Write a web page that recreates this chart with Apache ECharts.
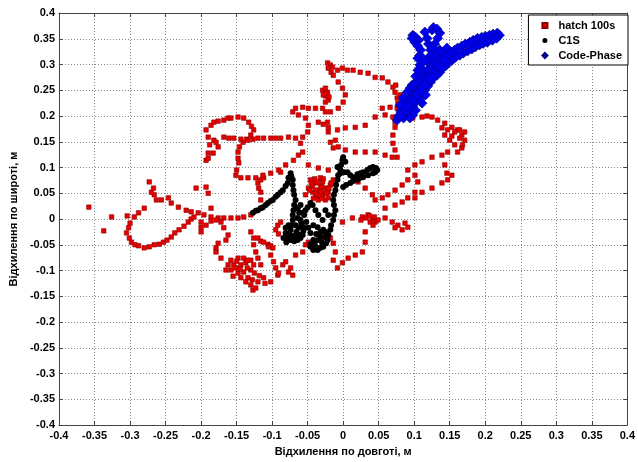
<!DOCTYPE html>
<html><head><meta charset="utf-8">
<script src="https://cdn.jsdelivr.net/npm/echarts@6/dist/echarts.min.js"></script>
<style>html,body{margin:0;padding:0;background:#fff}#c{width:638px;height:462px}</style>
</head><body><div id="c"></div>
<script>
const seriesNames = ['hatch 100s', 'C1S', 'Code-Phase'];
const axisTicks = [-0.4,-0.35,-0.3,-0.25,-0.2,-0.15,-0.1,-0.05,0,0.05,0.1,0.15,0.2,0.25,0.3,0.35,0.4];
const xTitle = 'Відхилення по довготі, м';
const yTitle = 'Відхилення по широті, м';

const hatch100s = [
[-0.358,0.023],[-0.337,-0.023],[-0.326,0.004],[-0.304,0.006],[-0.207,0.060],[-0.193,0.062],[-0.190,0.050],[-0.186,0.021],
[-0.273,0.072],[-0.267,0.060],[-0.266,0.047],[-0.270,0.052],[-0.263,0.037],[-0.256,0.037],[-0.246,0.041],[-0.242,0.031],[-0.232,0.023],[-0.221,0.017],[-0.214,0.014],[-0.204,0.012],[-0.196,0.008],[-0.186,0.004],[-0.176,0.002],[-0.168,0.002],[-0.158,0.002],[-0.148,0.002],[-0.140,0.004],[-0.130,0.008],
[-0.280,0.021],[-0.288,0.012],[-0.294,0.004],[-0.300,-0.008],[-0.302,-0.017],[-0.305,-0.027],[-0.301,-0.037],[-0.298,-0.045],[-0.293,-0.050],[-0.288,-0.052],[-0.280,-0.056],[-0.273,-0.054],[-0.266,-0.050],[-0.259,-0.049],[-0.253,-0.045],[-0.248,-0.041],[-0.242,-0.035],[-0.237,-0.027],[-0.231,-0.021],[-0.224,-0.014],[-0.218,-0.006],[-0.214,0],[-0.210,0.004],
[-0.200,-0.006],[-0.200,-0.016],[-0.200,-0.025],[-0.193,-0.012],[-0.186,-0.004],[-0.179,-0.002],[-0.172,-0.006],[-0.168,-0.017],[-0.162,-0.031],[-0.165,-0.041],[-0.176,-0.047],[-0.179,-0.056],[-0.179,-0.064],[-0.172,-0.076],[-0.162,-0.089],[-0.165,-0.099],
[-0.158,-0.080],[-0.148,-0.076],[-0.140,-0.076],[-0.130,-0.080],[-0.126,-0.089],[-0.130,-0.099],[-0.140,-0.103],[-0.148,-0.105],[-0.158,-0.099],[-0.154,-0.089],[-0.144,-0.089],[-0.137,-0.085],[-0.151,-0.095],[-0.155,-0.111],[-0.144,-0.114],[-0.134,-0.114],[-0.130,-0.128],[-0.127,-0.138],[-0.120,-0.122],[-0.112,-0.114],[-0.102,-0.122],[-0.092,-0.109],[-0.123,-0.134],[-0.137,-0.122],
[-0.150,-0.082],[-0.135,-0.080],[-0.145,-0.097],[-0.135,-0.095],[-0.125,-0.105],[-0.128,-0.118],[-0.118,-0.110],[-0.110,-0.125],
[-0.130,-0.025],[-0.126,-0.037],[-0.120,-0.037],[-0.116,-0.043],[-0.112,-0.045],[-0.106,-0.049],[-0.102,-0.052],[-0.099,-0.056],[-0.105,-0.054],[-0.102,-0.070],[-0.098,-0.083],[-0.095,-0.095],[-0.126,-0.050],[-0.123,-0.064],[-0.120,-0.076],[-0.116,-0.089],[-0.092,-0.012],[-0.088,-0.006],[-0.095,-0.021],[-0.091,-0.029],[-0.085,-0.089],[-0.077,-0.103],[-0.091,-0.105],[-0.071,-0.109],[-0.081,-0.083],[-0.067,-0.070],[-0.057,-0.064],[-0.053,-0.050],[-0.049,-0.045],[-0.074,-0.095],
[-0.116,0.021],[-0.116,0.037],[-0.116,0.052],[-0.119,0.060],[-0.120,0.070],[-0.116,0.076],[-0.112,0.080],
[-0.193,0.173],[-0.190,0.159],[-0.188,0.144],[-0.190,0.128],[-0.193,0.114],[-0.186,0.182],[-0.182,0.188],[-0.176,0.190],[-0.168,0.192],[-0.162,0.196],[-0.158,0.196],[-0.148,0.198],[-0.140,0.196],[-0.133,0.188],[-0.129,0.180],[-0.126,0.173],[-0.130,0.163],[-0.136,0.155],[-0.141,0.149],[-0.146,0.140],[-0.148,0.130],[-0.148,0.118],[-0.147,0.109],[-0.150,0.095],[-0.151,0.085],[-0.144,0.080],[-0.134,0.080],[-0.123,0.080],[-0.113,0.085],[-0.102,0.089],[-0.088,0.091],
[-0.182,0.153],[-0.176,0.140],[-0.183,0.128],[-0.190,0.118],[-0.179,0.149],
[-0.168,0.159],[-0.161,0.157],[-0.154,0.157],[-0.144,0.155],[-0.134,0.153],[-0.127,0.155],[-0.120,0.157],[-0.112,0.157],[-0.102,0.157],[-0.095,0.157],[-0.088,0.157],[-0.077,0.159],[-0.067,0.157],[-0.057,0.159],[-0.050,0.169],[-0.049,0.182],[-0.053,0.196],[-0.063,0.202],[-0.071,0.208],[-0.067,0.215],[-0.057,0.217],[-0.049,0.215],[-0.039,0.215],[-0.029,0.215],[-0.025,0.227],
[-0.060,0.147],[-0.057,0.130],[-0.063,0.124],[-0.070,0.114],[-0.081,0.105],[-0.091,0.095],
[-0.029,0.250],[-0.025,0.254],[-0.022,0.246],[-0.025,0.239],[-0.021,0.231],[-0.028,0.241],[-0.024,0.243],[-0.020,0.237],
[-0.022,0.303],[-0.018,0.299],[-0.015,0.295],[-0.008,0.289],[-0.001,0.293],[0.006,0.289],[0.014,0.289],[0.024,0.285],[0.035,0.283],[0.045,0.275],[0.055,0.274],[0.063,0.266],[0.070,0.256],[0.073,0.246],[0.076,0.235],[0.077,0.225],
[-0.021,0.293],[-0.017,0.285],[-0.014,0.279],[-0.007,0.266],[-0.001,0.254],[0.003,0.241],[0,0.227],[-0.007,0.215],[-0.018,0.208],
[-0.025,0.208],[-0.022,0.188],[-0.021,0.169],[-0.018,0.149],[-0.014,0.138],
[-0.035,0.188],[-0.028,0.184],[-0.021,0.178],[-0.008,0.173],[0.003,0.177],[0.017,0.178],[0.031,0.182],
[-0.011,0.153],[-0.007,0.140],[0.003,0.134],[0.017,0.130],[0.031,0.130],[0.045,0.130],[0.059,0.124],[0.069,0.120],
[0.045,0.198],[0.059,0.202],[0.070,0.198],[0.073,0.188],[0.073,0.178],[0.070,0.163],[0.070,0.147],[0.073,0.134],[0.076,0.120],
[0.055,0.215],[0.066,0.217],[0.076,0.215],
[-0.049,0.105],[-0.035,0.099],[-0.021,0.095],
[0.080,0.241],[0.074,0.260],[0.087,0.198],[0.098,0.196],[0.111,0.198],[0.118,0.200],[0.125,0.198],[0.133,0.192],[0.143,0.186],[0.153,0.178],[0.161,0.173],[0.167,0.163],
[0.139,0.177],[0.147,0.173],[0.157,0.169],[0.164,0.157],[0.171,0.153],[0.150,0.153],[0.157,0.144],[0.167,0.138],[0.161,0.130],[0.143,0.163],[0.153,0.161],[0.164,0.173],[0.171,0.169],[0.168,0.144],
[0.147,0.130],[0.139,0.124],[0.125,0.120],[0.111,0.111],[0.101,0.105],[0.091,0.095],[0.143,0.105],[0.146,0.089],[0.147,0.076],
[0.021,0.072],[0.031,0.060],[0.041,0.047],[0.045,0.037],[0.055,0.041],[0.063,0.047],[0.073,0.056],[0.083,0.066],[0.091,0.076],[0.101,0.085],
[0.105,0.072],[0.101,0.052],[0.101,0.041],[0.111,0.052],[0.125,0.060],[0.139,0.070],[0.153,0.085],
[0.059,0.021],[0.073,0.027],[0.083,0.033],[0.091,0.041],
[-0.001,-0.006],[0.013,0.002],[0.027,0.004],[0.035,0.008],[0.041,0.002],[0.045,-0.006],[0.038,-0.006],[0.049,-0.002],[0.042,-0.012],[0.059,0.002],[0.069,-0.006],[0.077,-0.012],[0.087,-0.008],[0.091,-0.016],[0.083,-0.021],[0.073,-0.017],
[0.025,-0.002],[0.032,0.002],[0.037,0.006],[0.044,0.004],
[0.031,-0.025],[0.031,-0.045],[0.027,-0.064],[0.017,-0.070],[0.007,-0.076],[-0.001,-0.085],[-0.008,-0.095],[-0.014,-0.080],[-0.011,-0.064],[-0.014,-0.047],[-0.018,-0.037],
[-0.046,0.076],[-0.039,0.070],[-0.032,0.066],[-0.025,0.060],[-0.035,0.056],[-0.043,0.052],[-0.029,0.047],[-0.021,0.052],[-0.039,0.043],[-0.049,0.060],[-0.053,0.047],[-0.018,0.066],[-0.014,0.076],[-0.032,0.080],[-0.025,0.037],[-0.035,0.037],[-0.043,0.064],[-0.029,0.072],[-0.021,0.041],[-0.039,0.056],[-0.032,0.052],
[-0.045,0.070],[-0.040,0.078],[-0.036,0.072],[-0.030,0.062],[-0.027,0.055],[-0.024,0.050],[-0.033,0.045],[-0.038,0.049],[-0.047,0.056],[-0.028,0.078],[-0.020,0.060],[-0.017,0.070],[-0.030,0.040],[-0.042,0.040]
];

const c1s = [
[-0.127,0.012],[-0.123,0.016],[-0.120,0.017],[-0.116,0.021],[-0.113,0.023],[-0.109,0.027],[-0.106,0.031],[-0.102,0.035],[-0.099,0.037],[-0.095,0.043],[-0.092,0.047],[-0.088,0.052],[-0.085,0.056],[-0.081,0.064],[-0.078,0.070],[-0.077,0.080],[-0.074,0.089],[-0.073,0.083],
[-0.071,0.076],[-0.071,0.066],[-0.070,0.056],[-0.069,0.047],[-0.067,0.037],[-0.069,0.027],[-0.070,0.017],[-0.071,0.008],[-0.071,-0.002],[-0.073,-0.012],[-0.074,-0.021],[-0.077,-0.029],[-0.078,-0.035],[-0.074,-0.041],[-0.069,-0.043],[-0.064,-0.041],[-0.060,-0.037],[-0.057,-0.031],[-0.056,-0.023],[-0.056,-0.016],[-0.059,-0.008],[-0.060,-0.002],[-0.057,0.012],[-0.053,0.017],[-0.050,0.023],[-0.046,0.031],
[-0.081,-0.017],[-0.077,-0.012],[-0.081,-0.027],[-0.084,-0.037],[-0.080,-0.045],[-0.071,-0.033],[-0.066,-0.025],[-0.063,-0.017],[-0.067,-0.012],[-0.064,0.002],[-0.062,0.012],[-0.064,0.021],[-0.060,0.027],[-0.055,0.008],[-0.052,-0.006],[-0.049,-0.017],[-0.046,-0.027],
[-0.075,-0.030],[-0.070,-0.038],[-0.066,-0.035],[-0.062,-0.030],[-0.079,-0.040],[-0.040,-0.050],[-0.038,-0.055],[-0.030,-0.045],[-0.027,-0.035],[-0.025,-0.025],
[-0.042,-0.012],[-0.036,-0.016],[-0.032,-0.025],[-0.032,-0.035],[-0.036,-0.041],[-0.042,-0.041],[-0.046,-0.049],[-0.046,-0.054],[-0.042,-0.060],[-0.036,-0.060],[-0.032,-0.056],[-0.028,-0.054],[-0.024,-0.047],[-0.022,-0.041],[-0.021,-0.031],[-0.018,-0.021],[-0.017,-0.012],[-0.014,-0.002],[-0.013,0.008],[-0.011,0.017],[-0.013,0.027],[-0.014,0.037],[-0.013,0.047],[-0.011,0.056],[-0.010,0.066],[-0.008,0.076],[-0.007,0.085],[-0.004,0.095],[-0.003,0.105],[-0.001,0.114],[0,0.120],[0.003,0.111],
[-0.008,0.101],[-0.004,0.089],[0.001,0.091],[0.006,0.091],[0.010,0.085],[0.014,0.081],[0.020,0.087],[0.024,0.089],[0.028,0.091],[0.034,0.095],[0.038,0.099],[0.042,0.101],[0.046,0.099],[0.048,0.095],[0.045,0.091],[0.042,0.089],[0.035,0.085],[0.028,0.081],[0.024,0.080],[0.020,0.076],[0.014,0.074],[0.010,0.070],[0.004,0.066],[0,0.062],
[-0.025,0.017],[-0.021,0.008],[-0.029,-0.002],[-0.035,0.008],[-0.039,0.017],[-0.043,0.027],[-0.028,-0.021],[-0.038,-0.029]
];

const codePhase = [
[0.076,0.192],[0.078,0.200],[0.081,0.208],[0.084,0.215],[0.087,0.221],[0.083,0.211],[0.088,0.231],[0.091,0.237],[0.094,0.241],[0.085,0.225],[0.080,0.221],[0.084,0.235],[0.090,0.246],[0.094,0.254],[0.097,0.260],[0.099,0.250],[0.097,0.231],[0.092,0.223],[0.098,0.241],[0.102,0.246],[0.105,0.254],[0.101,0.262],[0.108,0.260],[0.111,0.270],[0.105,0.270],[0.102,0.277],[0.108,0.279],[0.113,0.275],[0.116,0.281],[0.119,0.289],[0.113,0.289],[0.122,0.293],[0.125,0.299],[0.119,0.305],[0.127,0.305],[0.132,0.308],[0.136,0.314],[0.130,0.318],[0.139,0.322],[0.143,0.324],[0.136,0.328],[0.146,0.332],
[0.147,0.318],[0.153,0.324],[0.157,0.328],[0.161,0.332],[0.167,0.336],[0.172,0.340],[0.178,0.343],[0.183,0.347],[0.189,0.351],[0.195,0.353],[0.200,0.355],[0.206,0.357],[0.211,0.359],[0.217,0.361],[0.220,0.357],[0.216,0.351],[0.210,0.347],[0.203,0.343],[0.197,0.341],[0.192,0.338],[0.186,0.334],[0.181,0.330],[0.175,0.326],[0.169,0.322],[0.164,0.318],[0.158,0.314],[0.153,0.308],[0.148,0.303],[0.144,0.297],[0.140,0.293],[0.136,0.285],[0.132,0.279],[0.127,0.274],[0.123,0.266],[0.119,0.258],[0.115,0.250],[0.111,0.243],[0.106,0.235],[0.102,0.227],[0.098,0.219],[0.094,0.211],[0.090,0.204],[0.085,0.196],
[0.115,0.363],[0.118,0.351],[0.120,0.340],[0.123,0.328],[0.122,0.316],[0.119,0.308],[0.125,0.367],[0.127,0.372],[0.132,0.369],[0.136,0.361],[0.133,0.351],[0.129,0.340],[0.126,0.332],
[0.098,0.357],[0.102,0.353],[0.106,0.347],[0.101,0.343],[0.097,0.351],[0.105,0.336],[0.109,0.328],[0.108,0.318],[0.105,0.312],
[0.108,0.299],[0.115,0.308],[0.122,0.279],[0.129,0.289],[0.136,0.301],[0.143,0.308],[0.105,0.289],[0.112,0.260],[0.119,0.274],[0.126,0.285],[0.133,0.297],[0.116,0.241],[0.111,0.225],[0.102,0.211],[0.098,0.202],[0.094,0.196],[0.108,0.231],[0.101,0.239],[0.094,0.231],
[0.082,0.200],[0.087,0.210],[0.090,0.218],[0.095,0.226],[0.100,0.232],[0.104,0.240],[0.108,0.248],[0.112,0.254],[0.116,0.262],[0.121,0.270],[0.125,0.276]
];

const FONT = 'Liberation Sans, Arial, sans-serif';
const chart = echarts.init(document.getElementById('c'), null, {renderer: 'canvas'});
const fmt = v => String(+v.toFixed(2));
const lineCol = '#444';
const gridLine = {show: true, lineStyle: {color: '#888', width: 1, type: [1, 2]}};
function valAxis(extra) {
  return Object.assign({
    type: 'value', min: axisTicks[0], max: axisTicks[axisTicks.length - 1], interval: 0.05,
    axisLine: {show: true, onZero: false, lineStyle: {color: lineCol, width: 1}},
    axisTick: {show: true, inside: true, length: 4, lineStyle: {color: lineCol}},
    splitLine: {show: false},
    axisLabel: {show: false}
  }, extra);
}
chart.setOption({
  animation: false,
  backgroundColor: '#fff',
  grid: {left: 57, right: 9, top: 13, bottom: 37, containLabel: false},
  legend: {
    orient: 'vertical', right: 10, top: 15, itemGap: 4, padding: [5, 6, 4, 13],
    backgroundColor: '#fff', borderColor: '#000', borderWidth: 1, borderRadius: 0,
    itemWidth: 5, itemHeight: 5,
    textStyle: {fontFamily: FONT, fontWeight: 'bold', fontSize: 11, color: '#000', padding: [0, 0, 0, 6]},
    data: [
      {name: seriesNames[0], icon: 'rect', itemStyle: {color: '#e00000'}},
      {name: seriesNames[1], icon: 'circle', itemStyle: {color: '#000'}},
      {name: seriesNames[2], icon: 'diamond', itemStyle: {color: '#0000e0'}}
    ]
  },
  xAxis: [
    valAxis({position: 'bottom', splitLine: gridLine,
      name: xTitle, nameLocation: 'middle', nameGap: 21,
      nameTextStyle: {fontFamily: FONT, fontWeight: 'bold', fontSize: 11, color: '#000'},
      axisLabel: {show: true, formatter: fmt, margin: 5, fontFamily: FONT, fontWeight: 'bold', fontSize: 11, color: '#000', showMinLabel: true, showMaxLabel: true}}),
    valAxis({position: 'top'})
  ],
  yAxis: [
    valAxis({position: 'left', splitLine: gridLine,
      name: yTitle, nameLocation: 'middle', nameGap: 40,
      nameTextStyle: {fontFamily: FONT, fontWeight: 'bold', fontSize: 11, color: '#000'},
      axisLabel: {show: true, formatter: fmt, margin: 4, fontFamily: FONT, fontWeight: 'bold', fontSize: 11, color: '#000', showMinLabel: true, showMaxLabel: true}}),
    valAxis({position: 'right'})
  ],
  series: [
    {name: seriesNames[0], type: 'scatter', data: hatch100s, symbol: 'rect', symbolSize: 4.5,
     itemStyle: {color: '#e80000', borderColor: '#900000', borderWidth: 0.6, opacity: 1}, z: 2},
    {name: seriesNames[1], type: 'scatter', data: c1s, symbol: 'circle', symbolSize: 6,
     itemStyle: {color: '#000', opacity: 1}, z: 3},
    {name: seriesNames[2], type: 'scatter', data: codePhase, symbol: 'diamond', symbolSize: 10,
     itemStyle: {color: '#0000f0', borderColor: '#000080', borderWidth: 0.6, opacity: 1}, z: 4}
  ]
});
</script>
</body></html>
